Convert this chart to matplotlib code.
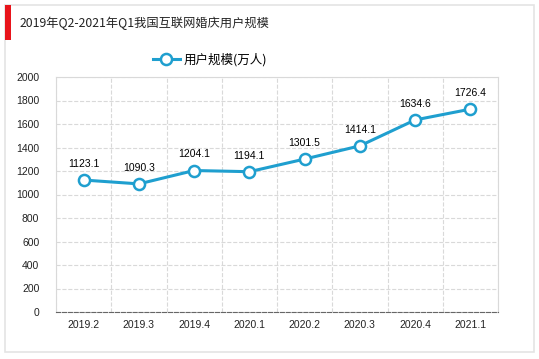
import matplotlib.pyplot as plt
from matplotlib.patches import Rectangle

plt.rcParams['font.family'] = ['Noto Sans CJK SC', 'DejaVu Sans']

# 数据
quarters = ['2019.2', '2019.3', '2019.4', '2020.1', '2020.2', '2020.3', '2020.4', '2021.1']
users = [1123.1, 1090.3, 1204.1, 1194.1, 1301.5, 1414.1, 1634.6, 1726.4]
title = '2019年Q2-2021年Q1我国互联网婚庆用户规模'
series_name = '用户规模(万人)'

line_color = '#1f9fcf'

fig = plt.figure(figsize=(5.39, 3.59), dpi=100)
W, H = 539, 359

# 外框与红色标题条
fig.patches.append(Rectangle((5 / W, 1 - 352 / H), 529 / W, 347 / H, transform=fig.transFigure,
                             fill=False, edgecolor='#e4e4e4', linewidth=1.2))
fig.patches.append(Rectangle((5 / W, 1 - 40 / H), 6 / W, 35 / H, transform=fig.transFigure,
                             facecolor='#e8141b', edgecolor='none'))
fig.text(20 / W, 1 - 23 / H, title, fontsize=8.8, va='center', ha='left', color='#222222')

ax = fig.add_axes([56 / W, 1 - 312 / H, 442 / W, 235 / H])
x = list(range(len(quarters)))
ax.plot(x, users, color=line_color, linewidth=2.2, marker='o', markersize=8,
        markerfacecolor='white', markeredgecolor=line_color, markeredgewidth=1.8, label=series_name)
for xi, v in zip(x, users):
    ax.annotate(f'{v:.1f}', (xi, v), xytext=(0, 8), textcoords='offset points',
                ha='center', va='bottom', fontsize=7.5, family=['Liberation Sans', 'DejaVu Sans'])

ax.set_xlim(-0.5, len(quarters) - 0.5)
ax.set_ylim(0, 2000)
ax.set_yticks(range(0, 2001, 200))
ax.set_xticks(x)
ax.set_xticklabels(quarters)
ax.set_xticks([i - 0.5 for i in range(len(quarters) + 1)], minor=True)
ax.tick_params(axis='both', which='both', length=0, labelsize=7.5, colors='#222222')
for lbl in ax.get_xticklabels() + ax.get_yticklabels():
    lbl.set_family(['Liberation Sans', 'DejaVu Sans'])
ax.grid(axis='y', which='major', linestyle='--', color='#d9d9d9', linewidth=0.8)
ax.grid(axis='x', which='minor', linestyle='--', color='#d9d9d9', linewidth=0.8)
for side in ['top', 'right', 'left']:
    ax.spines[side].set_color('#d9d9d9')
    ax.spines[side].set_linewidth(0.8)
ax.spines['bottom'].set_color('#666666')
ax.spines['bottom'].set_linestyle('--')
ax.spines['bottom'].set_linewidth(0.8)
ax.tick_params(axis='y', pad=12)
ax.tick_params(axis='x', pad=6)

leg = fig.legend(loc='center', bbox_to_anchor=(210 / W, 1 - 60 / H), frameon=False,
                 fontsize=9, handlelength=2.2, handletextpad=0.3)

fig.savefig('out.png', dpi=100)
